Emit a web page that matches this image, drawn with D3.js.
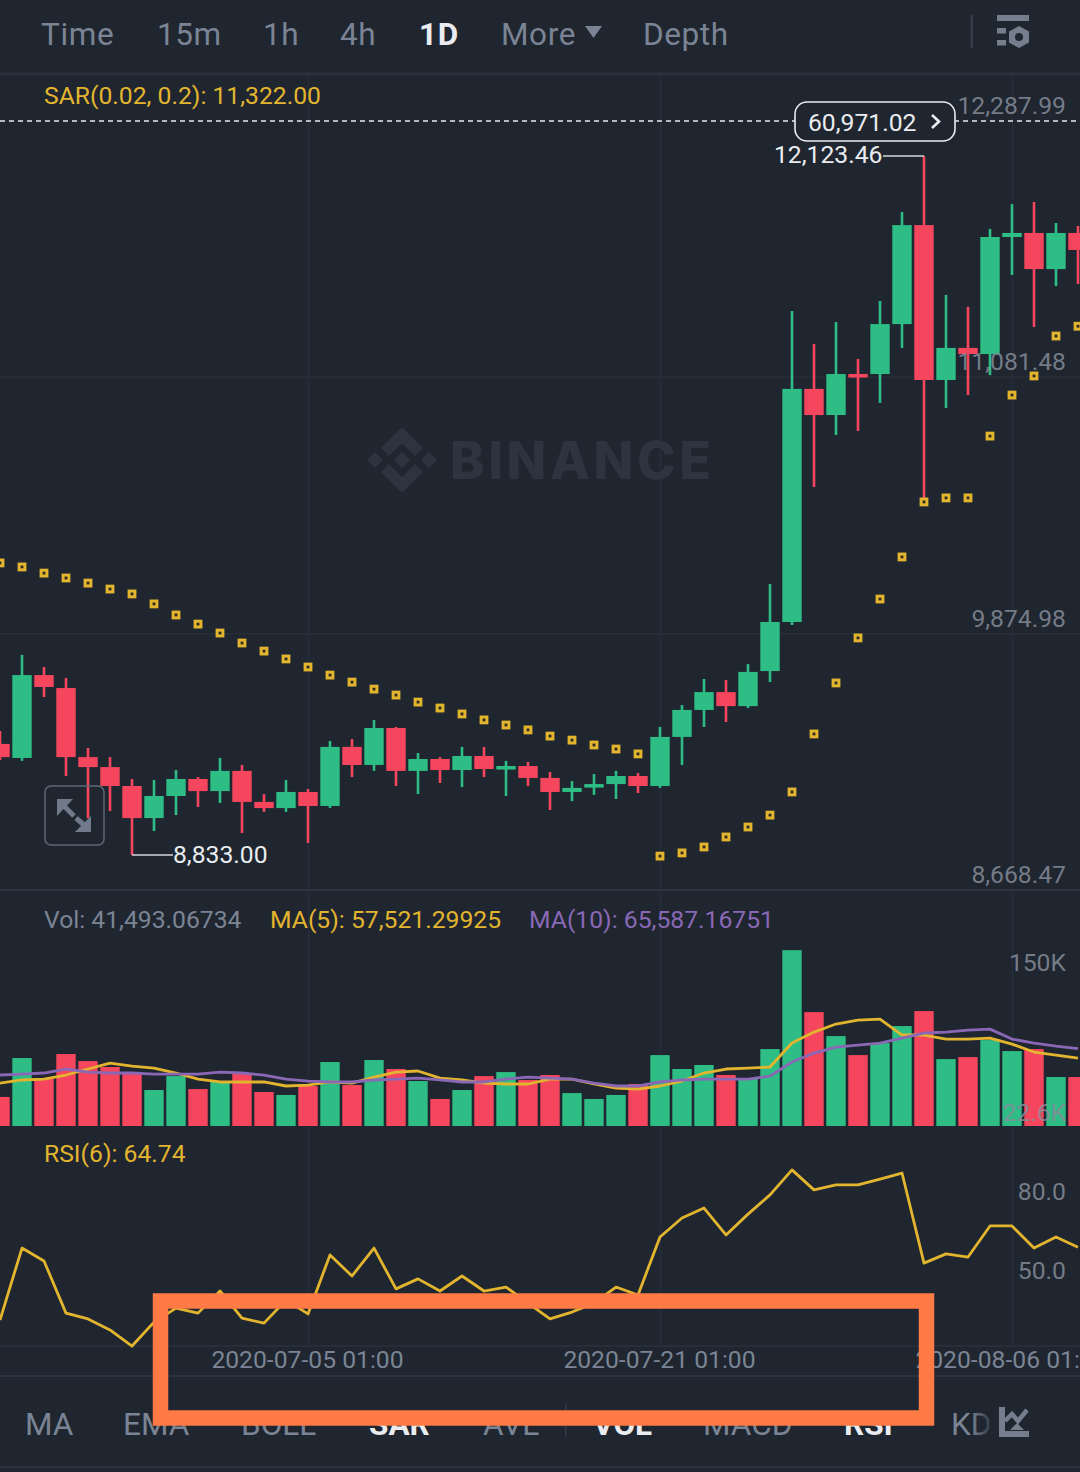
<!DOCTYPE html>
<html>
<head>
<meta charset="utf-8">
<title>BTC 1D</title>
<script src="https://cdnjs.cloudflare.com/ajax/libs/d3/7.8.5/d3.min.js"></script>
<style>
  html, body { margin: 0; padding: 0; background: #1f2630; }
  svg { display: block; font-family: Roboto, sans-serif; overflow: hidden; }
</style>
</head>
<body>
<svg id="chart" width="1080" height="1472"></svg>
<script>
// candles
var opens  = [9356,9290,9680,9619,9294,9247,9158,9007,9111,9191,9134,9229,9083,9054,9130,9064,9342,9257,9431,9229,9285,9233,9299,9238,9252,9196,9130,9153,9167,9205,9158,9389,9516,9600,9534,9699,9930,11027,10904,11097,11097,11332,11798,11069,11220,11191,11742,11761,11591,11761];
var closes = [9294,9680,9624,9294,9247,9158,9007,9111,9191,9134,9229,9083,9054,9130,9064,9342,9257,9431,9229,9285,9233,9299,9238,9252,9196,9130,9149,9167,9205,9158,9389,9516,9600,9534,9695,9930,11027,10904,11097,11088,11332,11798,11069,11220,11191,11742,11761,11591,11761,11681];
var highs  = [9417,9775,9718,9666,9337,9294,9191,9186,9233,9200,9290,9257,9120,9186,9144,9370,9379,9469,9436,9313,9294,9342,9342,9276,9271,9224,9181,9214,9229,9219,9436,9539,9662,9657,9732,10109,11394,11238,11342,11168,11441,11860,12123.46,11469,11413,11780,11897,11907,11808,11794];
var lows   = [9280,9276,9577,9205,9007,9040,8833,8946,9021,9059,9078,8937,9036,9036,8890,9054,9200,9229,9158,9120,9172,9153,9200,9111,9158,9045,9087,9116,9097,9125,9149,9257,9436,9459,9525,9647,9916,10565,10810,10829,10961,11220,10514,10937,10998,11092,11563,11318,11511,11521];
var sar    = [10208,10189,10160,10137,10113,10085,10062,10015,9963,9920,9878,9831,9793,9756,9718,9680,9647,9614,9586,9553,9525,9497,9469,9445,9422,9393,9374,9351,9332,9309,8828,8843,8871,8918,8965,9021,9130,9403,9643,9855,10038,10236,10495,10514,10514,10805,10998,11088,11276,11322];

// volume pane, in thousands
var volumes = [24.6,57.6,39.8,61.0,55.0,50.0,44.9,30.5,42.3,31.3,37.3,44.9,28.8,26.3,33.9,54.2,34.7,55.9,48.3,38.1,22.9,30.5,42.3,45.7,39.0,43.2,27.9,22.9,26.3,35.6,60.1,48.3,51.7,43.2,40.6,65.2,149.0,96.5,76.2,60.1,70.3,84.7,97.4,56.7,58.4,72.8,63.5,65.2,41.5,41.493];
var ma5  = [36.4,39.0,39.8,43.2,48.3,53.3,50.8,49.1,44.9,39.8,37.3,37.3,37.3,33.9,34.7,37.3,36.4,41.5,45.7,46.6,40.6,39.0,36.4,35.6,35.6,39.8,39.8,35.6,32.2,31.3,33.9,38.1,44.9,48.3,49.1,50.0,70.3,79.6,86.4,89.8,90.6,77.1,77.1,73.7,73.7,74.5,69.4,62.7,60.1,57.521];
var ma10 = [43.2,44.0,44.9,48.3,45.7,44.9,44.9,44.0,44.0,44.0,45.7,44.9,43.2,39.8,38.1,37.3,37.3,39.0,39.8,40.6,39.0,37.3,37.3,39.8,41.5,40.6,39.8,36.4,33.9,33.9,37.3,39.0,39.8,39.8,39.8,42.3,54.2,61.8,66.9,68.6,70.3,74.5,78.8,79.6,81.3,82.1,73.7,70.3,67.7,65.587];

var rsi = [37.1,64.4,59.5,39.7,37.5,33.3,27.2,36.3,41.6,39.7,48.1,37.8,35.9,44.7,39.4,61.8,53.8,64.4,48.9,52.7,48.1,53.8,48.1,49.6,43.5,37.5,40.1,43.5,49.6,46.6,68.6,75.8,79.6,69.4,77.3,84.6,94.1,86.5,88.4,88.4,90.6,92.9,58.7,62.2,61.0,72.8,72.8,64.4,68.6,64.74];

var priceTicks = [8668.47,9874.98,11081.48,12287.99];
var volTicks = [22.6,150];
var volTickLabels = ["22.6K","150K"];
var rsiTicks = [50,80];
var dateIdx = [14,30,46];
var dateLabels = ["2020-07-05 01:00","2020-07-21 01:00","2020-08-06 01:00"];
var topTabs = ["Time","15m","1h","4h","1D","More","Depth"];
var bottomTabs = ["MA","EMA","BOLL","SAR","AVL","VOL","MACD","RSI","KD"];

var lastVolumePopup = "60,971.02";

var BG = "#1f2630", GREEN = "#2ebd85", RED = "#f6465d", YELLOW = "#e3b52f",
    PURPLE = "#8a68b5", GRAY = "#7b8494", LABEL = "#858c99", GRID = "#272e38", LINE = "#323945";

var svg = d3.select("#chart");
svg.append("rect").attr("width",1080).attr("height",1472).attr("fill",BG);

var idx = d3.range(opens.length);
var x = d3.scaleLinear().domain([0,49]).range([0,1078]);
var y = d3.scaleLinear().domain([8668.47,12287.99]).range([890,121]);
var yVol = d3.scaleLinear().domain([0,150]).range([1126,949]);
var yRsi = d3.scaleLinear().domain([50,80]).range([1286,1207]);
var fmt = d3.format(",.2f");

// grid
var gridV = d3.axisBottom(x).tickValues(dateIdx).tickSize(1270).tickFormat("");
var gridG = svg.append("g").attr("transform","translate(0,76)").call(gridV);
gridG.select(".domain").remove();
gridG.selectAll("line").attr("stroke",GRID).attr("stroke-width",1.5);

function hline(yy, color, w){
  svg.append("line").attr("x1",0).attr("x2",1080).attr("y1",yy).attr("y2",yy)
    .attr("stroke",color).attr("stroke-width",w);
}
hline(y(11081.48),GRID,1.5);
hline(y(9874.98),GRID,1.5);
hline(74,"#2a313c",3);
hline(890,LINE,1.5);
hline(1346,"#2b323d",1.5);
hline(1376,LINE,1.5);
hline(1467,LINE,1.5);

// watermark
var mark = svg.append("g").attr("transform","translate(402,460)").attr("fill","#2d333f");
mark.append("path").attr("d","M0,-33L21,-12L13,-4L0,-17L-13,-4L-21,-12Z");
mark.append("path").attr("d","M0,33L21,12L13,4L0,17L-13,4L-21,12Z");
mark.append("path").attr("d","M0,-8L8,0L0,8L-8,0Z");
mark.append("path").attr("d","M-27,-8L-19,0L-27,8L-35,0Z");
mark.append("path").attr("d","M27,-8L35,0L27,8L19,0Z");
svg.append("text").attr("x",450).attr("y",479).attr("fill","#2d333f")
  .attr("font-family","Inter, sans-serif").attr("font-weight",800).attr("font-size",52)
  .attr("textLength",261).attr("lengthAdjust","spacing").text("BINANCE");

function candleColor(i){ return closes[i] >= opens[i] ? GREEN : RED; }

// candles
var candles = svg.append("g");
candles.selectAll("line").data(idx).join("line")
  .attr("x1",function(i){return x(i);}).attr("x2",function(i){return x(i);})
  .attr("y1",function(i){return y(highs[i]);}).attr("y2",function(i){return y(lows[i]);})
  .attr("stroke",candleColor).attr("stroke-width",2.6);
candles.selectAll("rect").data(idx).join("rect")
  .attr("x",function(i){return x(i)-9.7;}).attr("width",19.4)
  .attr("y",function(i){return y(Math.max(opens[i],closes[i]));})
  .attr("height",function(i){return Math.max(3.5,Math.abs(y(opens[i])-y(closes[i])));})
  .attr("fill",candleColor);

// SAR dots
svg.append("g").selectAll("rect").data(idx).join("rect")
  .attr("x",function(i){return x(i)-2.9;}).attr("y",function(i){return y(sar[i])-2.9;})
  .attr("width",5.8).attr("height",5.8)
  .attr("fill","#2a2a22").attr("stroke",YELLOW).attr("stroke-width",3);

// volume bars and averages
svg.append("g").selectAll("rect").data(idx).join("rect")
  .attr("x",function(i){return x(i)-9.7;}).attr("width",19.4)
  .attr("y",function(i){return yVol(volumes[i]);})
  .attr("height",function(i){return yVol(0)-yVol(volumes[i]);})
  .attr("fill",candleColor);

function drawLine(values, scale, color, w){
  var gen = d3.line().x(function(d,i){return x(i);}).y(function(d){return scale(d);});
  svg.append("path").attr("d",gen(values)).attr("fill","none")
    .attr("stroke",color).attr("stroke-width",w).attr("stroke-linejoin","round");
}
drawLine(ma5,yVol,YELLOW,2.8);
drawLine(ma10,yVol,PURPLE,2.8);
drawLine(rsi,yRsi,YELLOW,2.8);

// right-hand axes, labels float over the marks
function rightAxis(scale, ticks, format, dy){
  var g = svg.append("g").attr("transform","translate(1066,0)")
    .call(d3.axisLeft(scale).tickValues(ticks).tickSize(0).tickPadding(0).tickFormat(format));
  g.select(".domain").remove();
  g.selectAll("text").attr("dy",dy).attr("font-family","Roboto, sans-serif")
    .attr("font-size",24.7).attr("fill",LABEL).attr("fill-opacity",0.85);
}
rightAxis(y,priceTicks,fmt,-7.5);
rightAxis(yVol,volTicks,function(d,i){return volTickLabels[i];},21);
rightAxis(yRsi,rsiTicks,d3.format(".1f"),-8);

// dates
var dateG = svg.append("g").attr("transform","translate(-1,1346)")
  .call(d3.axisBottom(x).tickValues(dateIdx).tickSize(0).tickPadding(0)
    .tickFormat(function(d,i){return dateLabels[i];}));
dateG.select(".domain").remove();
dateG.selectAll("text").attr("dy",21.5).attr("font-family","Roboto, sans-serif")
  .attr("font-size",24.7).attr("fill",GRAY);

function label(px, py, str, color, size, weight){
  return svg.append("text").attr("x",px).attr("y",py).attr("fill",color)
    .attr("font-size",size||24.7).attr("font-weight",weight||400).text(str);
}

// legends
label(44,103.5,"SAR(0.02, 0.2): 11,322.00",YELLOW);
label(44,927.5,"Vol: 41,493.06734",GRAY);
label(270,927.5,"MA(5): 57,521.29925",YELLOW);
label(529,927.5,"MA(10): 65,587.16751",PURPLE);
label(44,1161.5,"RSI(6): 64.74",YELLOW);

// dashed line with popup
svg.append("line").attr("x1",0).attr("x2",1080).attr("y1",y(12287.99)).attr("y2",y(12287.99))
  .attr("stroke","#e8eaed").attr("stroke-width",1.5).attr("stroke-dasharray","5,4");
svg.append("rect").attr("x",795).attr("y",102).attr("width",160).attr("height",39).attr("rx",12)
  .attr("fill",BG).attr("stroke","#eaecef").attr("stroke-width",1.6);
label(808,131,lastVolumePopup,"#eaecef");
svg.append("path").attr("d","M932,115L939,121.5L932,128").attr("fill","none")
  .attr("stroke","#eaecef").attr("stroke-width",2.6);

// high and low markers
var hiIdx = highs.indexOf(d3.max(highs)), loIdx = lows.indexOf(d3.min(lows));
svg.append("line").attr("x1",883).attr("x2",x(hiIdx)).attr("y1",y(highs[hiIdx])).attr("y2",y(highs[hiIdx]))
  .attr("stroke","#d5d8dc").attr("stroke-width",1.5);
label(774,163,fmt(highs[hiIdx]),"#eaecef");
svg.append("line").attr("x1",x(loIdx)).attr("x2",173).attr("y1",y(lows[loIdx])).attr("y2",y(lows[loIdx]))
  .attr("stroke","#d5d8dc").attr("stroke-width",1.5);
label(173,863,fmt(lows[loIdx]),"#eaecef");

// expand button
svg.append("rect").attr("x",45).attr("y",786).attr("width",59).attr("height",59).attr("rx",6)
  .attr("fill","none").attr("stroke","#5f6775").attr("stroke-width",1.5);
var arrows = svg.append("g").attr("fill","#717a8a");
arrows.append("path").attr("d","M57,799L73,799L57,816Z");
arrows.append("path").attr("d","M91,832L75,832L91,816Z");
arrows.append("path").attr("d","M64,806L74,816").attr("stroke","#717a8a").attr("stroke-width",5);
arrows.append("path").attr("d","M76,818L84,825").attr("stroke","#717a8a").attr("stroke-width",5);

// top tabs
var topX = [41,157,263,340,419,501,643];
topTabs.forEach(function(t,i){
  var on = t === "1D";
  label(topX[i],45,t,on ? "#eaecef" : GRAY,31.5,on ? 700 : 400).attr("letter-spacing",0.6);
});
svg.append("path").attr("d","M585,26L602,26L593.5,38Z").attr("fill",GRAY);
svg.append("rect").attr("x",970.5).attr("y",15).attr("width",2.5).attr("height",33).attr("fill","#343b47");

// settings icon
var gear = svg.append("g").attr("fill","#757e8d");
gear.append("rect").attr("x",997).attr("y",15).attr("width",32).attr("height",6);
gear.append("rect").attr("x",997).attr("y",28).attr("width",9).attr("height",5.5);
gear.append("rect").attr("x",997).attr("y",40).attr("width",9).attr("height",5.5);
gear.append("path").attr("d","M1019,26L1029,31.5L1029,42.5L1019,48L1009,42.5L1009,31.5Z");
gear.append("circle").attr("cx",1019).attr("cy",37).attr("r",4).attr("fill",BG);

// bottom tabs
var bottomX = [25,123,241,369,483,593,703,844,951];
bottomTabs.forEach(function(t,i){
  var on = t === "SAR" || t === "VOL" || t === "RSI";
  label(bottomX[i],1435,t,on ? "#eaecef" : GRAY,31.5,on ? 700 : 400);
});
svg.append("rect").attr("x",565).attr("y",1404).attr("width",1.5).attr("height",33).attr("fill","#343b47");

// KD fades out toward the icon
var defs = svg.append("defs");
var fade = defs.append("linearGradient").attr("id","fade");
fade.append("stop").attr("offset",0).attr("stop-color",BG).attr("stop-opacity",0);
fade.append("stop").attr("offset",1).attr("stop-color",BG).attr("stop-opacity",0.9);
svg.append("rect").attr("x",970).attr("y",1405).attr("width",24).attr("height",35).attr("fill","url(#fade)");

var lineIcon = svg.append("g").attr("fill","#757e8d");
lineIcon.append("path").attr("d","M999,1407L1005,1407L1005,1431L1029,1431L1029,1437L999,1437Z");
lineIcon.append("path").attr("d","M1005,1421L1012,1414L1018,1421L1027,1410").attr("fill","none")
  .attr("stroke","#757e8d").attr("stroke-width",4.5);
lineIcon.append("path").attr("d","M1017,1423L1024,1430L1010,1430Z");

// the orange box somebody drew on top of the screenshot
svg.append("rect").attr("x",160.5).attr("y",1301).attr("width",766).attr("height",117)
  .attr("fill","none").attr("stroke","#ff7a45").attr("stroke-width",15.5);
</script>
</body>
</html>
